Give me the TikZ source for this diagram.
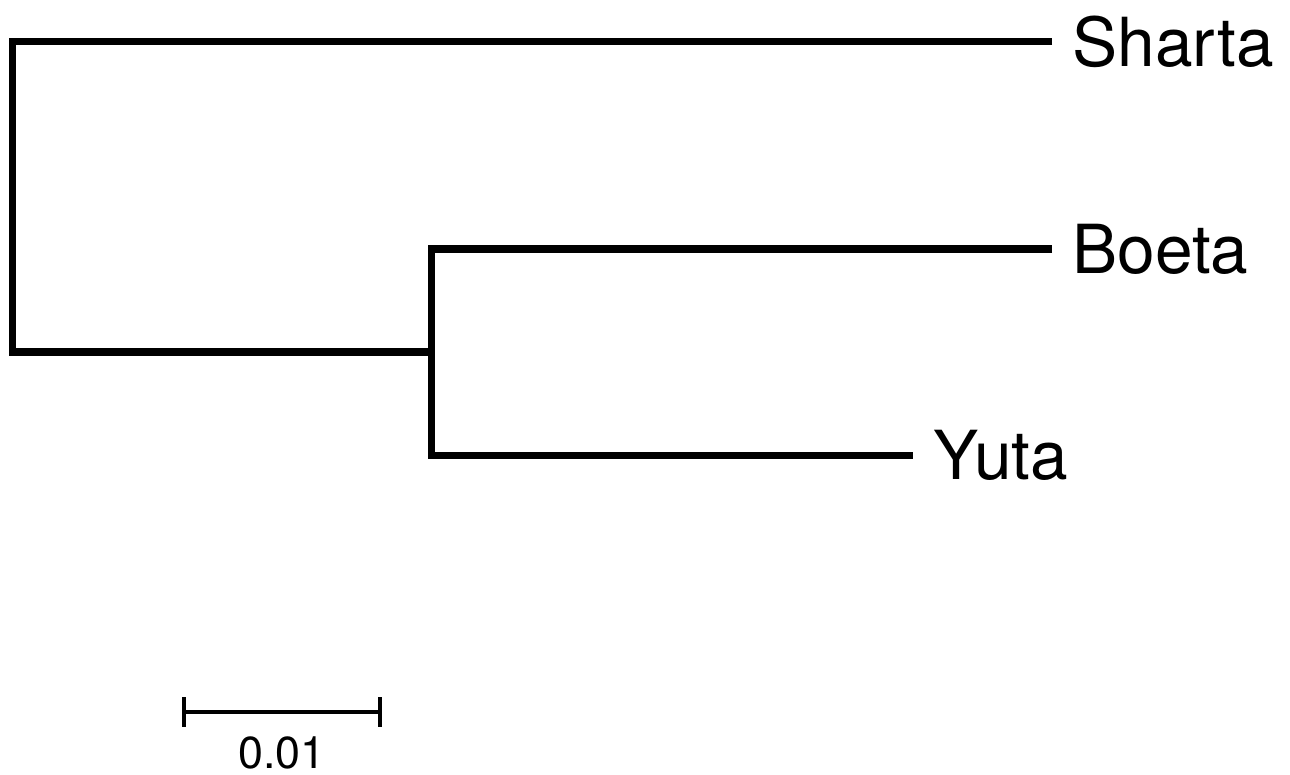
\documentclass[tikz,border=0pt]{standalone}
\usepackage{fontspec}
\setmainfont{TeX Gyre Heros}
\usepackage{tikz}
\usetikzlibrary{calc}

\begin{document}
\begin{tikzpicture}[x=0.02cm, y=-0.02cm,
        branch/.style={line width=4pt, line join=miter},
        taxon/.style={anchor=west, inner sep=0pt, xshift=0.4cm, font=\fontsize{38.5}{44}\selectfont},
        scalebar/.style={line width=2.8pt}]
        \useasboundingbox (0,0) rectangle (1290,774);

        \coordinate (R) at (12.7,352);
        \coordinate (N) at (431.7,352);
        \coordinate (S) at (1052,41.7);
        \coordinate (B) at (1052,249);
        \coordinate (Y) at (913,455.7);

        \draw[branch] (S) -| (R) -- (N);
        \draw[branch] (B) -| (N) |- (Y);

        \node[taxon] (sharta) at (S) {Sharta};
        \node[taxon] (boeta) at (B) {Boeta};
        \node[taxon] (yuta) at (Y) {Yuta};

        % scale
        \coordinate (L) at (184,712);
        \coordinate (M) at (380,712);
        \draw[scalebar] (L) -- (M);
        \draw[scalebar] ($(L)+(0,-15)$) -- ($(L)+(0,15)$);
        \draw[scalebar] ($(M)+(0,-15)$) -- ($(M)+(0,15)$);
        \node[anchor=base, font=\fontsize{25.5}{30}\selectfont, inner sep=0pt] (unit) at (282,768) {0.01};
    \end{tikzpicture}
\end{document}
